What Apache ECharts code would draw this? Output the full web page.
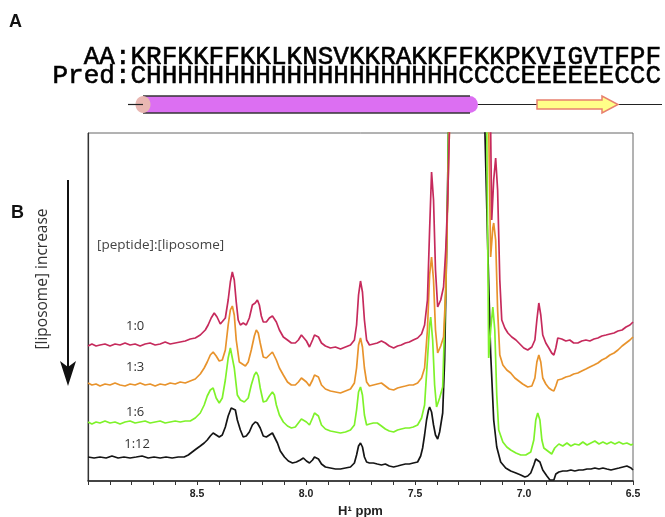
<!DOCTYPE html>
<html>
<head>
<meta charset="utf-8">
<title>NMR titration</title>
<script src="https://cdn.jsdelivr.net/npm/echarts@6/dist/echarts.min.js"></script>
<style>
  html, body { margin: 0; padding: 0; background: #fff; }
  #main { width: 665px; height: 517px; }
</style>
</head>
<body>
<div id="main"></div>
<script type="text/javascript">
// panel A: sequence and predicted secondary structure
var seqAA = 'KRFKKFFKKLKNSVKKRAKKFFKKPKVIGVTFPF';
var seqPred = 'CHHHHHHHHHHHHHHHHHHHHCCCCEEEEEECCC';

// panel B: x axis (ppm), ticks every 0.1, labels every 0.5
var ppmMin = 6.5, ppmMax = 9.0, ppmStep = 0.1;
var sampleNames = ['1:0', '1:3', '1:6', '1:12'];

// spectra [ppm, intensity] (stacked with offsets already in)
var spec_1_0 = [
  [9.000,135],[8.982,137],[8.963,135],[8.945,136],[8.922,137],[8.899,135],[8.876,137],[8.853,136],
  [8.830,138],[8.807,136],[8.784,137],[8.761,135],[8.738,137],[8.715,138],[8.692,136],[8.669,137],
  [8.646,139],[8.623,137],[8.600,138],[8.577,139],[8.554,140],[8.531,142],[8.508,143],[8.485,146],
  [8.462,151],[8.449,156],[8.435,163],[8.421,168],[8.408,164],[8.393,157],[8.384,156],[8.370,163],
  [8.357,181],[8.347,199],[8.338,209],[8.329,201],[8.320,179],[8.311,161],[8.301,156],[8.288,158],
  [8.274,156],[8.260,163],[8.246,176],[8.233,178],[8.223,181],[8.214,176],[8.205,165],[8.196,159],
  [8.182,159],[8.168,163],[8.154,165],[8.145,164],[8.136,159],[8.122,151],[8.104,144],[8.085,141],
  [8.067,138],[8.049,138],[8.035,141],[8.021,146],[8.012,146],[7.998,140],[7.984,134],[7.970,141],
  [7.961,146],[7.952,148],[7.943,144],[7.929,138],[7.911,135],[7.888,133],[7.865,134],[7.842,132],
  [7.819,134],[7.796,136],[7.778,141],[7.768,156],[7.759,186],[7.750,200],[7.741,189],[7.732,161],
  [7.722,141],[7.709,136],[7.691,137],[7.673,138],[7.654,140],[7.636,138],[7.618,135],[7.598,133],
  [7.580,135],[7.563,136],[7.544,138],[7.526,139],[7.508,141],[7.488,143],[7.470,147],[7.456,156],
  [7.443,181],[7.433,251],[7.424,309],[7.415,281],[7.406,211],[7.396,174],[7.382,181],[7.369,194],
  [7.359,231],[7.350,281],[7.341,361],[7.260,1500],[7.153,351],[7.148,261],[7.139,301],[7.130,323],
  [7.121,291],[7.111,201],[7.102,161],[7.088,153],[7.074,148],[7.056,144],[7.037,141],[7.019,137],
  [7.001,133],[6.983,131],[6.964,134],[6.950,141],[6.941,161],[6.932,178],[6.923,166],[6.914,146],
  [6.900,138],[6.886,133],[6.873,128],[6.863,126],[6.854,133],[6.845,143],[6.827,142],[6.808,140],
  [6.790,141],[6.772,138],[6.753,138],[6.735,140],[6.716,141],[6.698,140],[6.679,142],[6.661,143],
  [6.643,145],[6.624,146],[6.606,147],[6.587,148],[6.569,150],[6.550,151],[6.532,154],[6.514,156],
  [6.500,159]
];
var spec_1_3 = [
  [9.000,98],[8.982,96],[8.963,97],[8.945,95],[8.922,97],[8.899,96],[8.876,98],[8.853,96],
  [8.830,95],[8.807,97],[8.784,96],[8.761,98],[8.738,96],[8.715,97],[8.692,95],[8.669,97],
  [8.646,96],[8.623,98],[8.600,97],[8.577,99],[8.554,98],[8.531,100],[8.508,102],[8.485,107],
  [8.467,113],[8.453,119],[8.439,126],[8.426,129],[8.412,125],[8.398,120],[8.384,121],[8.370,131],
  [8.357,156],[8.347,171],[8.338,175],[8.329,166],[8.320,141],[8.306,119],[8.292,117],[8.278,115],
  [8.265,119],[8.251,131],[8.237,145],[8.228,151],[8.219,148],[8.210,138],[8.196,124],[8.182,123],
  [8.168,126],[8.154,129],[8.145,127],[8.136,121],[8.122,113],[8.104,106],[8.085,99],[8.067,96],
  [8.049,96],[8.035,99],[8.021,103],[8.012,104],[7.998,99],[7.984,95],[7.970,101],[7.961,106],
  [7.952,108],[7.943,104],[7.929,96],[7.911,92],[7.888,90],[7.865,89],[7.842,88],[7.819,90],
  [7.796,92],[7.778,98],[7.768,113],[7.759,136],[7.750,143],[7.741,134],[7.732,113],[7.722,99],
  [7.709,95],[7.691,96],[7.673,97],[7.654,98],[7.636,95],[7.618,92],[7.598,91],[7.580,93],
  [7.563,94],[7.544,95],[7.526,96],[7.508,96],[7.488,98],[7.470,103],[7.456,113],[7.443,151],
  [7.433,206],[7.424,224],[7.415,201],[7.406,151],[7.396,128],[7.382,135],[7.369,144],[7.359,191],
  [7.350,281],[7.341,361],[7.260,1500],[7.162,356],[7.153,224],[7.143,253],[7.139,258],[7.130,241],
  [7.121,171],[7.111,126],[7.097,116],[7.079,111],[7.061,108],[7.042,103],[7.024,100],[7.006,97],
  [6.983,94],[6.964,95],[6.950,103],[6.941,119],[6.932,126],[6.923,119],[6.914,103],[6.900,97],
  [6.886,93],[6.873,91],[6.863,90],[6.854,95],[6.845,101],[6.827,102],[6.808,104],[6.790,105],
  [6.772,107],[6.753,108],[6.735,110],[6.716,112],[6.698,114],[6.679,116],[6.661,118],[6.643,121],
  [6.624,123],[6.606,126],[6.587,128],[6.569,131],[6.550,135],[6.532,138],[6.514,141],[6.500,144]
];
var spec_1_6 = [
  [9.000,59],[8.982,57],[8.963,59],[8.945,58],[8.922,60],[8.899,58],[8.876,59],[8.853,57],
  [8.830,59],[8.807,60],[8.784,58],[8.761,59],[8.738,60],[8.715,58],[8.692,59],[8.669,60],
  [8.646,58],[8.623,59],[8.600,60],[8.577,59],[8.554,60],[8.531,60],[8.508,63],[8.485,68],
  [8.467,76],[8.453,85],[8.439,91],[8.426,93],[8.412,83],[8.398,78],[8.384,83],[8.370,101],
  [8.357,123],[8.347,133],[8.338,131],[8.329,113],[8.315,86],[8.301,81],[8.283,79],[8.265,83],
  [8.251,96],[8.237,106],[8.228,109],[8.219,105],[8.210,93],[8.196,79],[8.182,80],[8.168,85],
  [8.154,89],[8.145,86],[8.136,76],[8.122,66],[8.104,59],[8.085,55],[8.067,53],[8.049,54],
  [8.035,58],[8.021,62],[8.012,63],[7.998,59],[7.984,56],[7.970,63],[7.961,68],[7.952,69],
  [7.943,65],[7.929,56],[7.911,52],[7.888,50],[7.865,49],[7.842,48],[7.819,49],[7.796,51],
  [7.778,56],[7.768,71],[7.759,89],[7.750,94],[7.741,86],[7.732,66],[7.722,56],[7.709,57],
  [7.691,58],[7.673,58],[7.654,55],[7.636,52],[7.618,50],[7.598,49],[7.580,51],[7.563,52],
  [7.544,53],[7.526,53],[7.508,54],[7.488,56],[7.470,63],[7.456,76],[7.443,121],[7.433,156],
  [7.428,164],[7.419,141],[7.410,96],[7.401,74],[7.387,83],[7.373,94],[7.359,194],[7.350,291],
  [7.346,361],[7.260,1500],[7.171,356],[7.162,123],[7.153,151],[7.143,174],[7.134,151],[7.125,86],
  [7.116,51],[7.097,39],[7.079,34],[7.061,31],[7.037,28],[7.015,26],[6.992,26],[6.969,29],
  [6.955,41],[6.946,61],[6.937,68],[6.927,61],[6.918,41],[6.909,33],[6.891,30],[6.873,27],
  [6.859,33],[6.840,37],[6.822,35],[6.803,38],[6.785,35],[6.767,37],[6.748,36],[6.730,39],
  [6.711,36],[6.693,38],[6.675,40],[6.656,37],[6.638,39],[6.620,37],[6.601,39],[6.583,37],
  [6.564,39],[6.546,37],[6.528,38],[6.509,36],[6.500,37]
];
var spec_1_12 = [
  [9.000,24],[8.972,23],[8.945,24],[8.917,23],[8.890,25],[8.862,23],[8.835,24],[8.807,23],
  [8.779,24],[8.752,25],[8.724,23],[8.697,24],[8.669,23],[8.642,24],[8.614,23],[8.586,24],
  [8.559,24],[8.540,26],[8.522,29],[8.504,32],[8.485,35],[8.467,38],[8.453,41],[8.439,45],
  [8.426,48],[8.412,46],[8.398,44],[8.384,46],[8.370,54],[8.357,65],[8.343,73],[8.334,75],
  [8.324,71],[8.315,61],[8.301,51],[8.288,44],[8.274,45],[8.260,49],[8.246,56],[8.233,59],
  [8.223,58],[8.210,53],[8.196,45],[8.182,44],[8.168,46],[8.154,48],[8.145,46],[8.131,38],
  [8.118,30],[8.099,24],[8.081,20],[8.062,18],[8.044,19],[8.026,21],[8.012,23],[7.998,20],
  [7.984,18],[7.970,21],[7.961,24],[7.952,25],[7.943,22],[7.929,17],[7.911,14],[7.888,13],
  [7.865,12],[7.842,12],[7.819,13],[7.796,14],[7.778,18],[7.768,26],[7.759,35],[7.750,38],
  [7.741,34],[7.732,24],[7.722,19],[7.709,18],[7.691,18],[7.673,17],[7.654,16],[7.636,17],
  [7.618,15],[7.598,14],[7.580,15],[7.563,16],[7.544,17],[7.526,17],[7.508,18],[7.488,19],
  [7.474,25],[7.465,33],[7.456,46],[7.447,61],[7.438,71],[7.433,74],[7.424,69],[7.415,56],
  [7.406,46],[7.396,42],[7.387,49],[7.373,68],[7.364,121],[7.355,231],[7.350,301],[7.346,361],
  [7.260,1500],[7.180,356],[7.166,231],[7.153,128],[7.139,61],[7.125,34],[7.107,19],[7.084,13],
  [7.061,10],[7.037,8],[7.015,6],[6.996,4],[6.983,5],[6.969,8],[6.955,16],[6.946,22],
  [6.937,23],[6.927,19],[6.914,11],[6.895,5],[6.881,1],[6.873,-1],[6.863,1],[6.854,7],
  [6.840,9],[6.822,10],[6.803,10],[6.785,11],[6.767,10],[6.748,11],[6.730,11],[6.711,12],
  [6.693,12],[6.675,13],[6.656,12],[6.638,13],[6.620,12],[6.601,11],[6.583,12],[6.564,13],
  [6.546,14],[6.528,15],[6.509,13],[6.500,11]
];

var spectra = [spec_1_0, spec_1_3, spec_1_6, spec_1_12];
var colors = ['#c62a5c', '#e8932c', '#7ef22a', '#151515'];
// where the ratio labels sit (ppm, intensity)
var labelPos = [[8.784, 155], [8.784, 114], [8.784, 69], [8.775, 37]];

var myChart = echarts.init(document.getElementById('main'));

var series = spectra.map(function (d, i) {
    return {
        name: sampleNames[i],
        type: 'line',
        data: d,
        showSymbol: false,
        smooth: false,
        clip: true,
        lineStyle: {color: colors[i], width: 1.7},
        z: 10 - i,
        markPoint: {
            symbol: 'rect',
            symbolSize: 1,
            itemStyle: {color: 'transparent'},
            label: {
                show: true,
                formatter: sampleNames[i],
                color: '#333',
                fontFamily: 'Open Sans',
                fontSize: 13,
                position: 'inside'
            },
            data: [{coord: labelPos[i]}]
        }
    };
});

var font = 'Liberation Sans, Arial, sans-serif';
var monoFont = '26px Courier New, Liberation Mono, monospace';

var option = {
    animation: false,
    grid: {left: 88, right: 32, top: 133, bottom: 36, outerBoundsMode: 'none', containLabel: false,
        show: true, borderColor: '#666', borderWidth: 1},
    xAxis: {
        type: 'value',
        inverse: true,
        min: ppmMin,
        max: ppmMax,
        interval: ppmStep,
        name: 'H\u00b9 ppm',
        nameLocation: 'middle',
        nameGap: 22,
        nameTextStyle: {fontFamily: font, fontWeight: 'bold', fontSize: 13, color: '#222'},
        axisLine: {lineStyle: {color: '#222', width: 1.5}},
        axisTick: {inside: false, length: 4, lineStyle: {color: '#333'}},
        splitLine: {show: false},
        axisLabel: {
            margin: 8,
            fontFamily: font,
            fontWeight: 'bold',
            fontSize: 10.5,
            color: '#222',
            formatter: function (v) {
                var twice = v * 2;
                if (Math.abs(twice - Math.round(twice)) < 1e-6 && v < 8.99) {
                    return v.toFixed(1);
                }
                return '';
            }
        }
    },
    yAxis: {
        type: 'value',
        min: 0,
        max: 348,
        axisLine: {show: true, lineStyle: {color: '#333', width: 1.2}},
        axisTick: {show: false},
        axisLabel: {show: false},
        splitLine: {show: false}
    },
    series: series,
    graphic: [
        {type: 'text', left: 9, top: 13, style: {text: 'A', font: 'bold 18px Liberation Sans, Arial', fill: '#111'}},
        {type: 'text', x: 661, y: 57, style: {text: 'AA:' + seqAA, font: monoFont, fill: '#000', stroke: '#000', lineWidth: 0.6, align: 'right', verticalAlign: 'middle'}},
        {type: 'text', x: 661, y: 76, style: {text: 'Pred:' + seqPred, font: monoFont, fill: '#000', stroke: '#000', lineWidth: 0.6, align: 'right', verticalAlign: 'middle'}},
        // structure cartoon
        {type: 'line', shape: {x1: 128, y1: 104.5, x2: 662, y2: 104.5}, style: {stroke: '#222', lineWidth: 1.2}},
        {type: 'rect', shape: {x: 143, y: 96, width: 335, height: 17, r: [0, 8.5, 8.5, 0]}, style: {fill: '#dc6ff2', stroke: null}},
        {type: 'line', shape: {x1: 143, y1: 96, x2: 470, y2: 96}, style: {stroke: '#333', lineWidth: 1.6}},
        {type: 'line', shape: {x1: 143, y1: 113, x2: 470, y2: 113}, style: {stroke: '#333', lineWidth: 1.6}},
        {type: 'ellipse', shape: {cx: 143, cy: 104.5, rx: 7.5, ry: 8.5}, style: {fill: '#e9b7b2', stroke: null}},
        {type: 'line', shape: {x1: 128, y1: 104.5, x2: 143, y2: 104.5}, style: {stroke: '#222', lineWidth: 1.2}},
        {type: 'polygon', shape: {points: [[537, 100], [602, 100], [602, 96], [618, 104.5], [602, 113], [602, 109], [537, 109]]},
            style: {fill: '#ffff88', stroke: '#e8806e', lineWidth: 1.5}},
        // panel B annotations
        {type: 'text', left: 11, top: 204, style: {text: 'B', font: 'bold 18px Liberation Sans, Arial', fill: '#111'}},
        {type: 'line', shape: {x1: 68, y1: 180, x2: 68, y2: 370}, style: {stroke: '#111', lineWidth: 2}},
        {type: 'polygon', shape: {points: [[60, 361], [68, 386], [76, 361], [68, 367]]}, style: {fill: '#111'}},
        {type: 'text', x: 43, y: 279, rotation: Math.PI / 2,
            style: {text: '[liposome] increase', font: '15.5px Open Sans', fill: '#333', align: 'center', verticalAlign: 'middle'}},
        {type: 'text', x: 97, y: 245,
            style: {text: '[peptide]:[liposome]', font: '13.5px Open Sans', fill: '#444', align: 'left', verticalAlign: 'middle'}}
    ]
};

myChart.setOption(option);
</script>
</body>
</html>
